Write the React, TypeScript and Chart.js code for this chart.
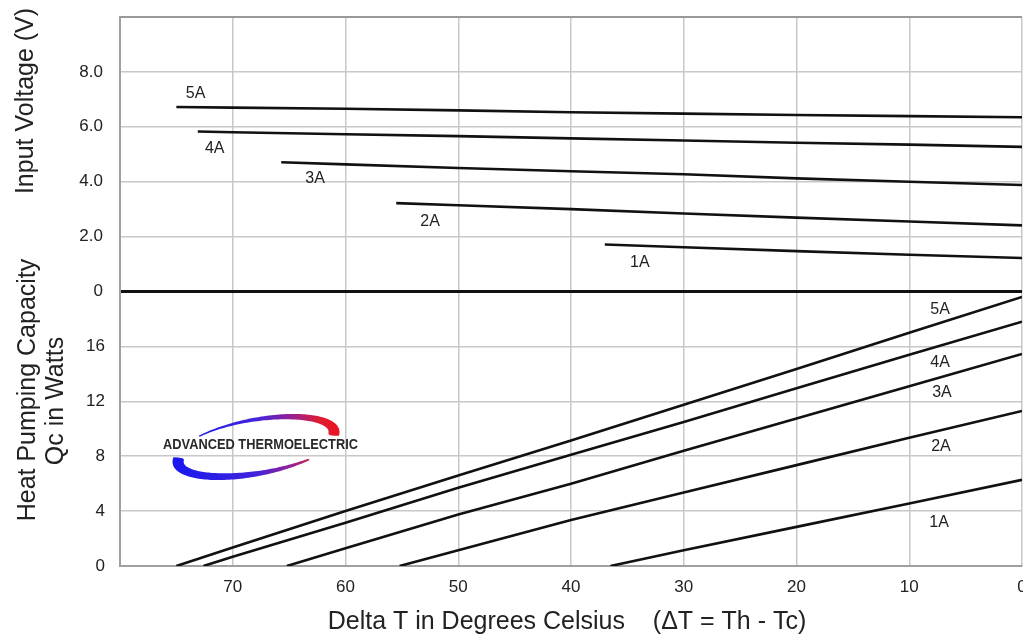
import React, { useEffect, useRef } from 'react';
import { Chart, registerables } from 'chart.js';

Chart.register(...registerables);

const FONT = "'Liberation Sans', Arial, Helvetica, sans-serif";

// ---- axes ----
const deltaTMin = 0;
const deltaTMax = 80;
const deltaTStep = 10;
const voltageMax = 10;
const voltageStep = 2;
const qcMax = 20;
const qcStep = 4;

const currents = ['1A', '2A', '3A', '4A', '5A'];

// ---- Input voltage curves (ΔT °C -> V) ----
const voltDeltaT1A = [37, 30, 20, 10, 0];
const volt1A = [1.71, 1.61, 1.47, 1.34, 1.22];
const voltDeltaT2A = [55.5, 50, 40, 30, 20, 10, 0];
const volt2A = [3.22, 3.14, 3.0, 2.84, 2.69, 2.55, 2.41];
const voltDeltaT3A = [65.7, 60, 50, 40, 30, 20, 10, 0];
const volt3A = [4.71, 4.63, 4.5, 4.38, 4.27, 4.12, 4.0, 3.88];
const voltDeltaT4A = [73.1, 70, 60, 50, 40, 30, 20, 10, 0];
const volt4A = [5.83, 5.8, 5.73, 5.66, 5.58, 5.5, 5.42, 5.35, 5.27];
const voltDeltaT5A = [75, 70, 60, 50, 40, 30, 20, 10, 0];
const volt5A = [6.72, 6.7, 6.66, 6.6, 6.53, 6.48, 6.43, 6.39, 6.35];

// ---- Heat pumping capacity curves (ΔT °C -> W) ----
const qcDeltaT1A = [36.5, 30, 20, 10, 0];
const qc1A = [0, 1.15, 2.85, 4.55, 6.28];
const qcDeltaT2A = [55.2, 50, 40, 30, 20, 10, 0];
const qc2A = [0, 1.15, 3.35, 5.35, 7.35, 9.35, 11.3];
const qcDeltaT3A = [65.2, 60, 50, 40, 30, 20, 10, 0];
const qc3A = [0, 1.3, 3.75, 6.0, 8.4, 10.75, 13.1, 15.45];
const qcDeltaT4A = [72.6, 70, 60, 50, 40, 30, 20, 10, 0];
const qc4A = [0, 0.67, 3.15, 5.7, 8.1, 10.5, 12.95, 15.4, 17.8];
const qcDeltaT5A = [75, 70, 60, 50, 40, 30, 20, 10, 0];
const qc5A = [0, 1.35, 4.0, 6.6, 9.15, 11.75, 14.35, 17.0, 19.6];

// ---- curve label anchors (data coordinates) ----
const voltLabelDeltaT = [33.9, 52.5, 62.7, 71.6, 73.3];
const voltLabelValue = [1.06, 2.56, 4.1, 5.21, 7.2];
const qcLabelDeltaT = [7.36, 7.19, 7.1, 7.27, 7.27];
const qcLabelValue = [3.15, 8.73, 12.62, 14.79, 18.65];

// ---- texts ----
const voltTitle = 'Input Voltage (V)';
const qcTitleLines = ['Heat Pumping Capacity', 'Qc in Watts'];
const xTitle = 'Delta T in Degrees Celsius    (\u0394T = Th - Tc)';
const logoText = 'ADVANCED THERMOELECTRIC';

const voltSeries = [
  { t: voltDeltaT1A, v: volt1A },
  { t: voltDeltaT2A, v: volt2A },
  { t: voltDeltaT3A, v: volt3A },
  { t: voltDeltaT4A, v: volt4A },
  { t: voltDeltaT5A, v: volt5A },
];
const qcSeries = [
  { t: qcDeltaT1A, v: qc1A },
  { t: qcDeltaT2A, v: qc2A },
  { t: qcDeltaT3A, v: qc3A },
  { t: qcDeltaT4A, v: qc4A },
  { t: qcDeltaT5A, v: qc5A },
];

const GRID = '#c8c8c8';
const BORDER = '#a0a0a0';
const INK = '#222222';

function ellipsePt(cx: number, cy: number, rx: number, ry: number, rot: number, th: number) {
  const c = Math.cos(th), s = Math.sin(th), cr = Math.cos(rot), sr = Math.sin(rot);
  return [cx + rx * c * cr - ry * s * sr, cy + rx * c * sr + ry * s * cr];
}

function swoosh(ctx: CanvasRenderingContext2D, cx: number, cy: number, rx: number, ry: number, rot: number,
  a0: number, a1: number, tMin: number, tMax: number, pw: number) {
  const n = 80;
  const outer: number[][] = [];
  const inner: number[][] = [];
  for (let i = 0; i <= n; i++) {
    const u = i / n;
    const th = a0 + (a1 - a0) * u;
    let t = tMin + (tMax - tMin) * Math.pow(u, pw);
    if (u > 0.94) t *= Math.sqrt(Math.max(0, 1 - ((u - 0.94) / 0.06) ** 2)) * 0.6 + 0.4;
    outer.push(ellipsePt(cx, cy, rx, ry, rot, th));
    inner.push(ellipsePt(cx, cy, rx - t, ry - t, rot, th));
  }
  ctx.beginPath();
  ctx.moveTo(outer[0][0], outer[0][1]);
  for (const p of outer) ctx.lineTo(p[0], p[1]);
  for (let i = inner.length - 1; i >= 0; i--) ctx.lineTo(inner[i][0], inner[i][1]);
  ctx.closePath();
  ctx.fill();
}

const decorPlugin = {
  id: 'decor',
  afterDatasetsDraw(chart: any) {
    const { ctx, scales } = chart;
    const x = scales.x, yV = scales.yV, yQ = scales.yQ;
    ctx.save();
    ctx.font = `16px ${FONT}`;
    ctx.fillStyle = INK;
    ctx.textAlign = 'center';
    ctx.textBaseline = 'middle';
    currents.forEach((c, i) => {
      ctx.fillText(c, x.getPixelForValue(voltLabelDeltaT[i]), yV.getPixelForValue(voltLabelValue[i]));
      ctx.fillText(c, x.getPixelForValue(qcLabelDeltaT[i]), yQ.getPixelForValue(qcLabelValue[i]));
    });

    // logo
    const cx = 256, cy = 447, rx = 85, ry = 29, rot = -0.2;
    const g = ctx.createLinearGradient(172, 0, 340, 0);
    g.addColorStop(0, '#1818f0');
    g.addColorStop(0.5, '#4024dc');
    g.addColorStop(0.72, '#9a2090');
    g.addColorStop(0.88, '#e01c30');
    g.addColorStop(1, '#ec1420');
    ctx.fillStyle = g;
    swoosh(ctx, cx, cy, rx, ry, rot, 0.3 * Math.PI, 1.07 * Math.PI, 2, 12, 0.9);
    swoosh(ctx, cx, cy, rx, ry, rot, 1.28 * Math.PI, 2.06 * Math.PI, 1.5, 12, 1.3);

    ctx.font = `bold 14px ${FONT}`;
    ctx.fillStyle = '#2a2a2a';
    ctx.textAlign = 'left';
    ctx.textBaseline = 'middle';
    const w = ctx.measureText(logoText).width;
    ctx.save();
    ctx.translate(163, 445);
    ctx.scale(195 / w, 1);
    ctx.fillText(logoText, 0, 0);
    ctx.restore();
    ctx.restore();
  },
  afterDraw(chart: any) {
    const { ctx } = chart;
    ctx.save();
    ctx.fillStyle = INK;
    ctx.font = `25px ${FONT}`;
    ctx.textAlign = 'center';
    ctx.textBaseline = 'alphabetic';
    const rotText = (t: string, bx: number, cyy: number) => {
      ctx.save();
      ctx.translate(bx, cyy);
      ctx.rotate(-Math.PI / 2);
      ctx.fillText(t, 0, 0);
      ctx.restore();
    };
    rotText(voltTitle, 33, 101);
    rotText(qcTitleLines[0], 35, 390);
    rotText(qcTitleLines[1], 63, 401);
    ctx.fillText(xTitle, 567, 629);
    ctx.restore();
  },
};

export default function App() {
  const ref = useRef<HTMLCanvasElement | null>(null);

  useEffect(() => {
    if (!ref.current) return;
    const datasets: any[] = [];
    const mk = (label: string, s: { t: number[]; v: number[] }, axis: string) => ({
      label,
      data: s.t.map((t, k) => ({ x: t, y: s.v[k] })),
      yAxisID: axis,
      xAxisID: 'x',
      borderColor: '#111',
      borderWidth: 2.6,
      pointRadius: 0,
      tension: 0,
      fill: false,
    });
    voltSeries.forEach((s, i) => datasets.push(mk(`V ${currents[i]}`, s, 'yV')));
    qcSeries.forEach((s, i) => datasets.push(mk(`Qc ${currents[i]}`, s, 'yQ')));

    const tickFont = { family: FONT, size: 17 };
    const noPadY = (s: any) => { s.width = 120; s.paddingTop = 0; s.paddingBottom = 0; };
    const chart = new Chart(ref.current, {
      type: 'line',
      data: { datasets },
      plugins: [decorPlugin],
      options: {
        animation: false,
        responsive: false,
        devicePixelRatio: 1,
        layout: { padding: { left: 0, top: 17, right: 38, bottom: 0 } },
        plugins: { legend: { display: false }, tooltip: { enabled: false } },
        scales: {
          x: {
            type: 'linear',
            min: deltaTMin,
            max: deltaTMax,
            reverse: true,
            ticks: {
              stepSize: deltaTStep,
              font: tickFont,
              color: INK,
              padding: 11,
              maxRotation: 0,
              callback: (v: any) => (v === deltaTMax ? '' : String(v)),
            },
            grid: { color: GRID, lineWidth: 1.5, drawTicks: false },
            border: { color: BORDER, width: 2 },
            afterFit: (s: any) => { s.height = 75; s.paddingLeft = 0; s.paddingRight = 0; },
          },
          yQ: {
            type: 'linear',
            position: 'left',
            stack: 'panels',
            stackWeight: 1,
            weight: 0,
            min: 0,
            max: qcMax,
            ticks: {
              stepSize: qcStep,
              font: tickFont,
              color: INK,
              padding: 15,
              callback: (v: any) => (v === qcMax ? '' : String(v)),
            },
            grid: {
              color: (c: any) => (c.tick && c.tick.value === qcMax ? 'rgba(0,0,0,0)' : GRID),
              lineWidth: 1.5,
              drawTicks: false,
            },
            border: { color: BORDER, width: 2 },
            afterFit: noPadY,
          },
          yV: {
            type: 'linear',
            position: 'left',
            stack: 'panels',
            stackWeight: 1,
            weight: 1,
            min: 0,
            max: voltageMax,
            ticks: {
              stepSize: voltageStep,
              font: tickFont,
              color: INK,
              padding: 17,
              callback: (v: any) => (v === voltageMax ? '' : v === 0 ? '0' : Number(v).toFixed(1)),
            },
            grid: {
              color: (c: any) => {
                const v = c.tick ? c.tick.value : null;
                if (v === 0) return '#111';
                if (v === voltageMax) return '#999';
                return GRID;
              },
              lineWidth: (c: any) => (c.tick && c.tick.value === 0 ? 3 : c.tick && c.tick.value === voltageMax ? 2 : 1.5),
              drawTicks: false,
            },
            border: { color: BORDER, width: 2 },
            afterFit: noPadY,
          },
        },
      } as any,
    });
    return () => chart.destroy();
  }, []);

  return (
    <div style={{ position: 'absolute', left: 0, top: 0, width: 1023, height: 641, overflow: 'hidden', background: '#fff' }}>
      <canvas ref={ref} width={1060} height={641} style={{ display: 'block', width: 1060, height: 641 }} />
    </div>
  );
}
